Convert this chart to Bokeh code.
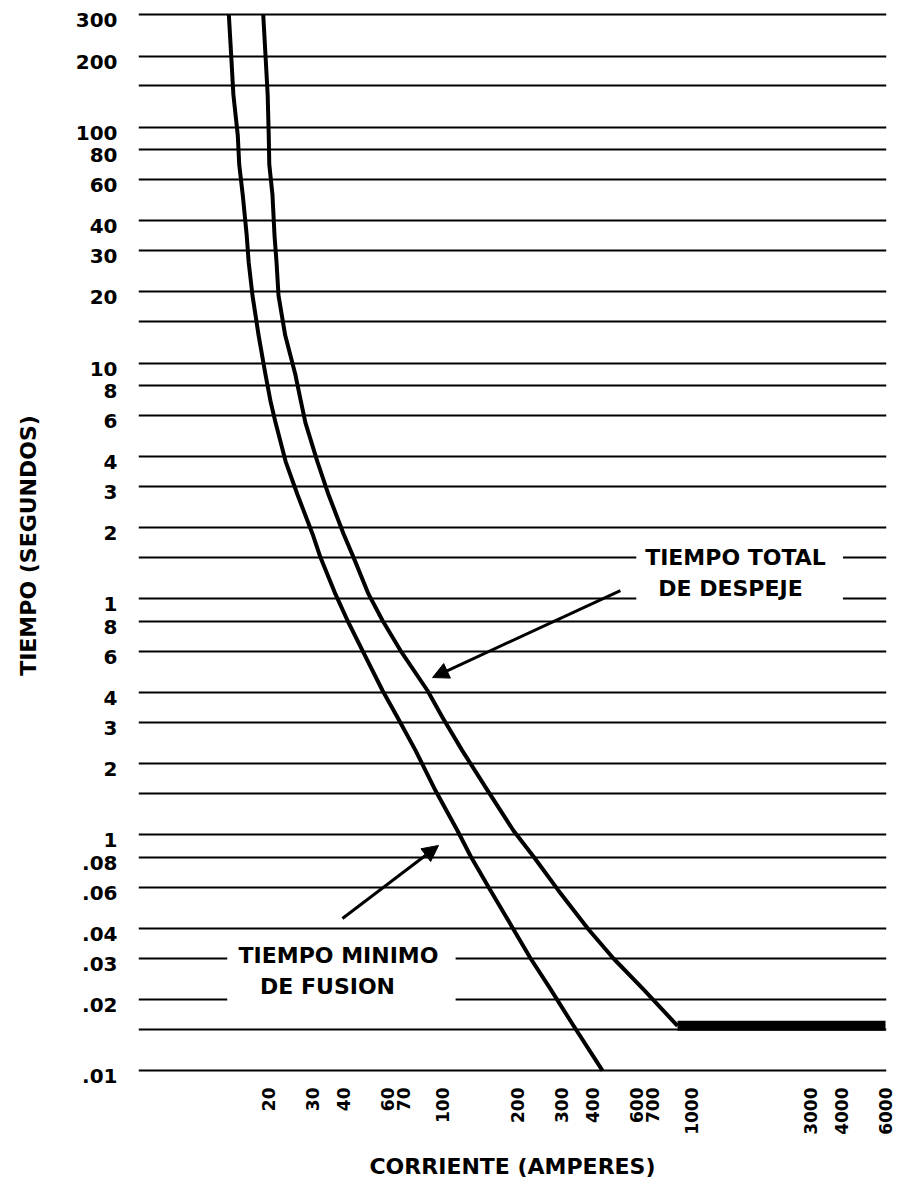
import math
from bokeh.plotting import figure
from bokeh.models import (FixedTicker, LogAxis, LogScale, Range1d, Arrow,
                          NormalHead, Label, BoxAnnotation, ColumnDataSource)
from bokeh.embed import file_html
from bokeh.resources import INLINE

# ---------------- data ----------------
# horizontal rule values (seconds)
grid_times = [300, 200, 150, 100, 80, 60, 40, 30, 20, 15, 10, 8, 6, 4, 3, 2, 1.5,
              1, 0.8, 0.6, 0.4, 0.3, 0.2, 0.15, 0.1, 0.08, 0.06, 0.04, 0.03, 0.02,
              0.015, 0.01]

y_tick_values = [300, 200, 100, 80, 60, 40, 30, 20, 10, 8, 6, 4, 3, 2, 1, 0.8, 0.6,
                 0.4, 0.3, 0.2, 0.1, 0.08, 0.06, 0.04, 0.03, 0.02, 0.01]
y_tick_labels = ["300", "200", "100", "80", "60", "40", "30", "20", "10", "8", "6",
                 "4", "3", "2", "1", "8", "6", "4", "3", "2", "1", ".08", ".06",
                 ".04", ".03", ".02", ".01"]

x_tick_values = [20, 30, 40, 60, 70, 100, 200, 300, 400, 600, 700, 1000, 3000,
                 4000, 6000]
x_tick_labels = ["20", "30", "40", "60", "70", "100", "200", "300", "400", "600",
                 "700", "1000", "3000", "4000", "6000"]

# curve readings: time (s) at which each curve was read
curve_time = [300, 203, 137, 92.1, 69.4, 51.8, 34.7, 26.7, 19.3, 13.1, 8.94, 6.94,
              5.59, 3.82, 2.77, 1.89, 1.50, 1.05, 0.810, 0.604, 0.409, 0.315, 0.228,
              0.154, 0.104, 0.0809, 0.0581, 0.0397, 0.0299, 0.0221, 0.0155, 0.0100]

# minimum melting time curve (amperes)
min_melt_current = [13.9, 14.2, 14.5, 15.1, 15.3, 15.8, 16.4, 16.7, 17.3, 18.3,
                    19.5, 20.4, 21.4, 23.5, 26.2, 30.1, 32.4, 37.2, 41.6, 47.8,
                    57.5, 66.0, 78.0, 93.8, 115, 130, 156, 193, 226, 272, 336, 439]
min_melt_time = curve_time

# total clearing time curve (amperes)
total_clear_current = [19.1, 19.5, 19.9, 20.1, 20.2, 20.8, 21.2, 21.6, 22.0, 23.4,
                       25.7, 27.0, 28.2, 31.5, 34.9, 40.1, 44.0, 50.5, 57.5, 67.9,
                       87.1, 100, 120, 152, 193, 232, 292, 386, 486, 641, 878]
total_clear_time = curve_time[:-1]

# flat (current-limited) part of total clearing curve
flat_current = [878, 6000]
flat_time = [0.0155, 0.0155]

FONT = "DejaVu Sans"

# ---------------- figure ----------------
x0, x1 = 6.033, 6055
y0, y1 = 0.009088, 312.1
lab_shift = 10 ** (5.5 / 235.9)

p = figure(width=900, height=1186, x_axis_type="log", y_axis_type="log",
           x_range=Range1d(x0, x1), y_range=Range1d(y0, y1),
           output_backend="svg", toolbar_location=None, y_axis_location=None,
           min_border_left=138, min_border_right=14, min_border_top=10,
           min_border_bottom=106)
p.outline_line_color = None
p.background_fill_color = "white"
p.border_fill_color = "white"

# horizontal rules at every time value
p.ygrid.ticker = FixedTicker(ticks=grid_times)
p.ygrid.grid_line_color = "black"
p.ygrid.grid_line_width = 2
p.ygrid.grid_line_alpha = 1
p.xgrid.visible = False

# x axis
xa = p.xaxis[0]
xa.ticker = FixedTicker(ticks=x_tick_values)
xa.major_label_overrides = {v: l for v, l in zip(x_tick_values, x_tick_labels)}
xa.major_label_orientation = math.pi / 2
xa.major_label_text_font = FONT
xa.major_label_text_font_style = "bold"
xa.major_label_text_font_size = "17px"
xa.major_label_text_color = "black"
xa.major_label_standoff = 7
xa.major_tick_out = 0
xa.major_tick_in = 0
xa.minor_tick_out = 0
xa.minor_tick_in = 0
xa.axis_line_color = None
xa.axis_label = "CORRIENTE (AMPERES)"
xa.axis_label_text_font = FONT
xa.axis_label_text_font_style = "bold"
xa.axis_label_text_font_size = "22px"
xa.axis_label_text_color = "black"
xa.axis_label_standoff = 16

# y axis (labels sit slightly below their rules, as in the original)
p.extra_y_ranges = {"labels": Range1d(y0 * lab_shift, y1 * lab_shift)}
p.extra_y_scales = {"labels": LogScale()}
ya = LogAxis(y_range_name="labels", ticker=FixedTicker(ticks=y_tick_values))
ya.major_label_overrides = {v: l for v, l in zip(y_tick_values, y_tick_labels)}
ya.major_label_text_font = FONT
ya.major_label_text_font_style = "bold"
ya.major_label_text_font_size = "20px"
ya.major_label_text_color = "black"
ya.major_label_standoff = 21
ya.major_tick_out = 0
ya.major_tick_in = 0
ya.minor_tick_out = 0
ya.minor_tick_in = 0
ya.axis_line_color = None
ya.axis_label = "TIEMPO (SEGUNDOS)"
ya.axis_label_text_font = FONT
ya.axis_label_text_font_style = "bold"
ya.axis_label_text_font_size = "22px"
ya.axis_label_text_color = "black"
ya.axis_label_standoff = 32
p.add_layout(ya, "left")

# curves
src_a = ColumnDataSource(dict(x=min_melt_current, y=min_melt_time))
src_b = ColumnDataSource(dict(x=total_clear_current, y=total_clear_time))
p.line("x", "y", source=src_a, line_color="black", line_width=4, line_join="round")
p.line("x", "y", source=src_b, line_color="black", line_width=4, line_join="round")
p.line(flat_current, flat_time, line_color="black", line_width=10, line_cap="butt")

# white boxes behind the annotation texts
p.add_layout(BoxAnnotation(left=600, right=4050, bottom=0.93, top=1.78,
                           fill_color="white", fill_alpha=1, line_color=None))
p.add_layout(BoxAnnotation(left=13.7, right=113, bottom=0.0177, top=0.0356,
                           fill_color="white", fill_alpha=1, line_color=None))

def lab(x, y, t):
    p.add_layout(Label(x=x, y=y, text=t, text_align="center", text_baseline="middle",
                       text_font=FONT, text_font_style="bold",
                       text_font_size="22px", text_color="black"))

lab(1500, 1.498, "TIEMPO TOTAL")
lab(1432, 1.107, "DE DESPEJE")
lab(38.3, 0.0308, "TIEMPO MINIMO")
lab(34.6, 0.02275, "DE FUSION")

# arrows
p.add_layout(Arrow(end=NormalHead(size=16, fill_color="black", line_color="black"),
                   x_start=518, y_start=1.085, x_end=91.3, y_end=0.464,
                   line_width=3, line_color="black"))
p.add_layout(Arrow(end=NormalHead(size=16, fill_color="black", line_color="black"),
                   x_start=39.7, y_start=0.0442, x_end=96.5, y_end=0.0901,
                   line_width=3, line_color="black"))

open("out.html", "w").write(file_html(p, INLINE))
